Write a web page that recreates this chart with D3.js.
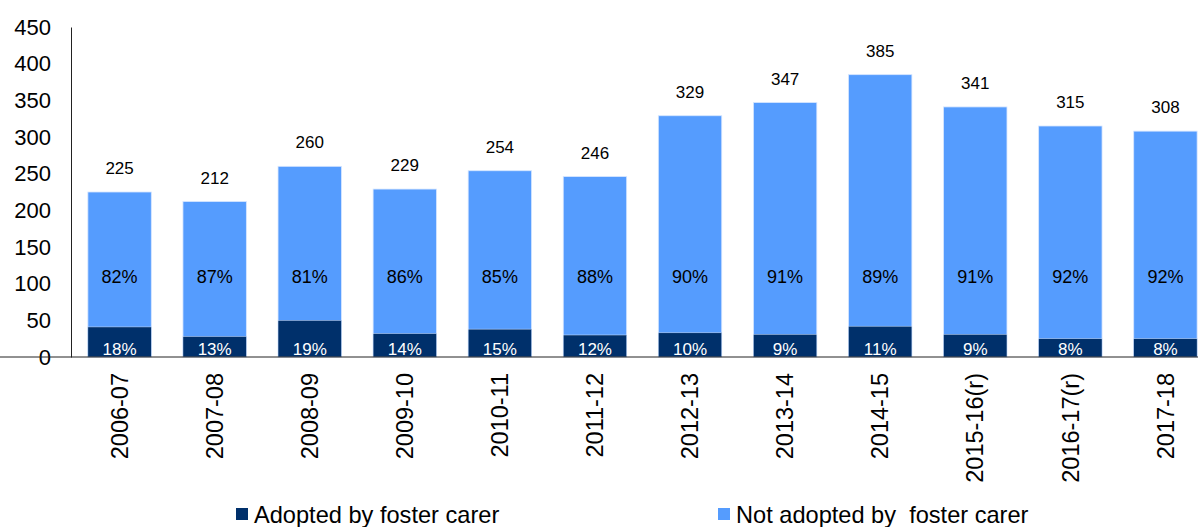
<!DOCTYPE html>
<html>
<head>
<meta charset="utf-8">
<script src="https://cdn.jsdelivr.net/npm/d3@7"></script>
<style>
    body { margin: 0; background: #fff; }
    svg { display: block; font-family: "Liberation Sans", Arial, sans-serif; }
</style>
</head>
<body>
<script>
// DATA

let years = ["2006-07", "2007-08", "2008-09", "2009-10", "2010-11", "2011-12",
    "2012-13", "2013-14", "2014-15", "2015-16(r)", "2016-17(r)", "2017-18"];
let totals = [225, 212, 260, 229, 254, 246, 329, 347, 385, 341, 315, 308];
let adopted = [41, 28, 50, 32, 38, 30, 33, 31, 42, 31, 25, 25];
let adoptedPct = ["18%", "13%", "19%", "14%", "15%", "12%", "10%", "9%", "11%", "9%", "8%", "8%"];
let notAdoptedPct = ["82%", "87%", "81%", "86%", "85%", "88%", "90%", "91%", "89%", "91%", "92%", "92%"];
let yTicks = [0, 50, 100, 150, 200, 250, 300, 350, 400, 450];
let legendLabels = ["Adopted by foster carer", "Not adopted by\u00a0 foster carer"];

// CHART

let width = 1198;
let height = 527;
let darkBlue = "#00306b";
let lightBlue = "#559cfe";

let svg = d3.select("body").append("svg")
    .attr("width", width)
    .attr("height", height);

let x_scale = d3.scaleBand()
    .domain(years)
    .range([72, 1213])
    .paddingInner(0.333)
    .paddingOuter(0.167);

let y_scale = d3.scaleLinear()
    .domain([0, 450])
    .range([357, 27]);

// light (total) bars
svg.selectAll("rect.total")
    .data(years)
    .join("rect")
    .attr("class", "total")
    .attr("x", d => x_scale(d))
    .attr("y", (d, i) => y_scale(totals[i]))
    .attr("width", x_scale.bandwidth())
    .attr("height", (d, i) => y_scale(0) - y_scale(totals[i]))
    .attr("fill", lightBlue)
    .attr("stroke", "#d6e6ff")
    .attr("stroke-width", 0.8);

// dark (adopted) bars
svg.selectAll("rect.adopted")
    .data(years)
    .join("rect")
    .attr("class", "adopted")
    .attr("x", d => x_scale(d))
    .attr("y", (d, i) => y_scale(adopted[i]))
    .attr("width", x_scale.bandwidth())
    .attr("height", (d, i) => y_scale(0) - y_scale(adopted[i]))
    .attr("fill", darkBlue)
    .attr("stroke", "#d6e6ff")
    .attr("stroke-width", 0.5);

let cx = d => x_scale(d) + x_scale.bandwidth() / 2;

// total labels
svg.selectAll("text.total")
    .data(years)
    .join("text")
    .attr("class", "total")
    .attr("x", cx)
    .attr("y", (d, i) => y_scale(totals[i]) - 18)
    .attr("text-anchor", "middle")
    .style("font-size", "17px")
    .text((d, i) => totals[i]);

// percent labels
svg.selectAll("text.notpct")
    .data(years)
    .join("text")
    .attr("class", "notpct")
    .attr("x", cx)
    .attr("y", y_scale(110) + 7)
    .attr("text-anchor", "middle")
    .style("font-size", "18px")
    .text((d, i) => notAdoptedPct[i]);

svg.selectAll("text.pct")
    .data(years)
    .join("text")
    .attr("class", "pct")
    .attr("x", cx)
    .attr("y", y_scale(0) - 2)
    .attr("text-anchor", "middle")
    .attr("fill", "#fff")
    .style("font-size", "17px")
    .text((d, i) => adoptedPct[i]);

// axes
let y_axis = d3.axisLeft(y_scale).tickValues(yTicks).tickSize(0).tickPadding(20);
let gy = svg.append("g")
    .attr("class", "y axis")
    .attr("transform", "translate(71,0)")
    .call(y_axis);
gy.select(".domain").attr("stroke", "#222");
gy.selectAll("text").style("font-size", "22px").attr("fill", "#000");

let x_axis = d3.axisBottom(x_scale).tickSize(0).tickPadding(0);
let gx = svg.append("g")
    .attr("class", "x axis")
    .attr("transform", "translate(0," + y_scale(0) + ")")
    .call(x_axis);
gx.select(".domain").attr("stroke", "#222").attr("d", "M-1,0H" + width);
gx.selectAll("text")
    .style("font-size", "23.5px")
    .attr("fill", "#000")
    .attr("text-anchor", "end")
    .attr("transform", "rotate(-90)")
    .attr("x", -16)
    .attr("y", 0)
    .attr("dy", "0.35em");

// legend
let legendX = [236, 718];
let legendColors = [darkBlue, lightBlue];
let legend = svg.selectAll("g.legend")
    .data(legendLabels)
    .join("g")
    .attr("class", "legend")
    .attr("transform", (d, i) => "translate(" + legendX[i] + ",514)");

legend.append("rect")
    .attr("x", 0)
    .attr("y", -6)
    .attr("width", 12)
    .attr("height", 12)
    .attr("fill", (d, i) => legendColors[i]);

legend.append("text")
    .attr("x", 18)
    .attr("dy", "0.36em")
    .style("font-size", "23.6px")
    .text(d => d);
</script>
</body>
</html>
